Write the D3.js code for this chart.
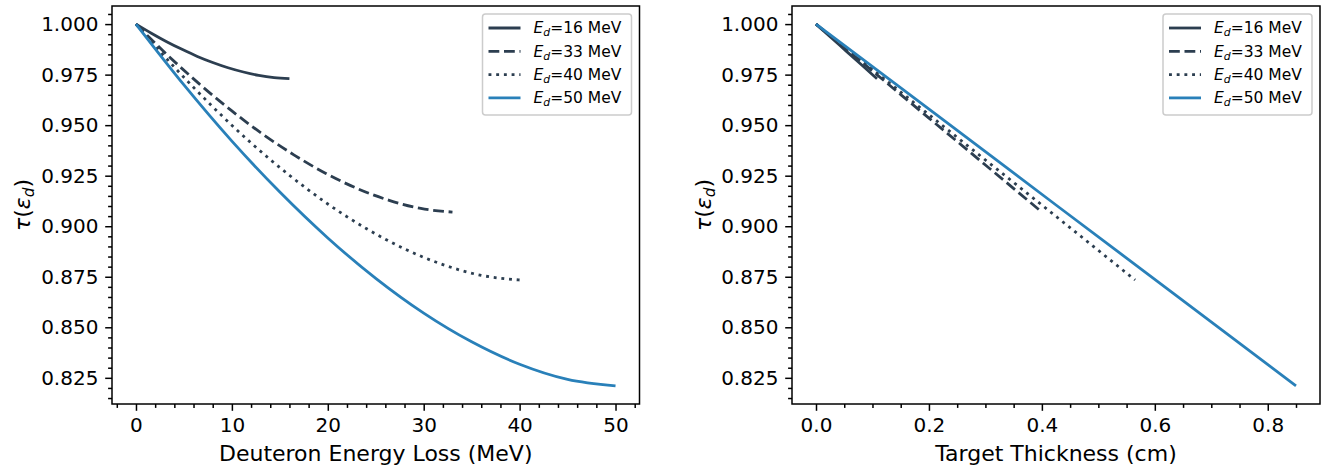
<!DOCTYPE html>
<html><head><meta charset="utf-8">
<script src="https://cdn.jsdelivr.net/npm/d3@7"></script>
<style>
body{margin:0;background:#fff}
text{font-family:"DejaVu Sans",sans-serif;fill:#000}
</style>
</head><body>
<svg id="chart" width="1324" height="468"></svg>
<script>
// ---------- data ----------
const beamEnergies = [16, 33, 40, 50];
const seriesColors = ["#2c3e50", "#2c3e50", "#2c3e50", "#2980b9"];
const seriesDash = ["none", "10.8,4.7", "2.9,4.8", "none"];

// left panel: tau vs deuteron energy loss (MeV)
const energyLoss16 = [0, 1.6, 3.2, 4.8, 6.4, 8, 9.6, 11.2, 12.8, 14.4, 16];
const tauLoss16    = [1.000, 0.9955, 0.9913, 0.9875, 0.9840, 0.9810, 0.9784, 0.9763, 0.9746, 0.9735, 0.9730];
const energyLoss33 = [0, 3.3, 6.6, 9.9, 13.2, 16.5, 19.8, 23.1, 26.4, 29.7, 33];
const tauLoss33    = [1.000, 0.9846, 0.9704, 0.9574, 0.9456, 0.9352, 0.9261, 0.9186, 0.9128, 0.9088, 0.9070];
const energyLoss40 = [0, 4, 8, 12, 16, 20, 24, 28, 32, 36, 40];
const tauLoss40    = [1.000, 0.9787, 0.9591, 0.9412, 0.9252, 0.9110, 0.8989, 0.8888, 0.8810, 0.8757, 0.8734];
const energyLoss50 = [0, 5, 10, 15, 20, 25, 30, 35, 40, 45, 50];
const tauLoss50    = [1.000, 0.9699, 0.9421, 0.9169, 0.8942, 0.8742, 0.8570, 0.8428, 0.8317, 0.8242, 0.8210];

// right panel: tau vs target thickness (cm)
const thick16 = [0, 0.027, 0.054, 0.081, 0.108];
const tauThick16 = [1.000, 0.9933, 0.9865, 0.9798, 0.9730];
const thick33 = [0, 0.10, 0.20, 0.30, 0.40];
const tauThick33 = [1.000, 0.9768, 0.9535, 0.9303, 0.9070];
const thick40 = [0, 0.141, 0.2825, 0.424, 0.565];
const tauThick40 = [1.000, 0.9684, 0.9367, 0.9051, 0.8734];
const thick50 = [0, 0.2125, 0.425, 0.6375, 0.85];
const tauThick50 = [1.000, 0.9553, 0.9105, 0.8658, 0.8210];

const yTicks = [0.825, 0.850, 0.875, 0.900, 0.925, 0.950, 0.975, 1.000];
const xTicksLeft = [0, 10, 20, 30, 40, 50];
const xTicksRight = [0.0, 0.2, 0.4, 0.6, 0.8];

// ---------- drawing ----------
const svg = d3.select("#chart");
const FS_TICK = 20, FS_LABEL = 22, FS_LEG = 15.5;
const MAJ = 6.8, MIN = 3.9, PAD = 6.8, TW = 1.5;

function panel(opts) {
  const {left, right, top, bottom, xDomain, xMajor, xMinorStep, xFmt, xLabel, ylabelX, series} = opts;
  const x = d3.scaleLinear().domain(xDomain).range([left, right]);
  const y = d3.scaleLinear().domain([0.81205, 1.00895]).range([bottom, top]);
  const g = svg.append("g");

  const xMinor = d3.range(Math.ceil(xDomain[0] / xMinorStep) * xMinorStep, xDomain[1] + 1e-9, xMinorStep)
    .filter(v => !xMajor.some(m => Math.abs(m - v) < 1e-9));
  const yMinor = d3.range(0.815, 1.0089, 0.005).filter(v => !yTicks.some(m => Math.abs(m - v) < 1e-9));

  const ax = g.append("g").attr("transform", `translate(0,${bottom})`)
    .call(d3.axisBottom(x).tickValues(xMajor).tickFormat(xFmt).tickSize(MAJ).tickPadding(PAD));
  const axm = g.append("g").attr("transform", `translate(0,${bottom})`)
    .call(d3.axisBottom(x).tickValues(xMinor).tickFormat("").tickSize(MIN));
  const ay = g.append("g").attr("transform", `translate(${left},0)`)
    .call(d3.axisLeft(y).tickValues(yTicks).tickFormat(d3.format(".3f")).tickSize(MAJ).tickPadding(PAD));
  const aym = g.append("g").attr("transform", `translate(${left},0)`)
    .call(d3.axisLeft(y).tickValues(yMinor).tickFormat("").tickSize(MIN));
  [ax, axm, ay, aym].forEach(a => {
    a.select(".domain").remove();
    a.selectAll("line").attr("stroke", "#000").attr("stroke-width", TW);
    a.selectAll("text").attr("font-size", FS_TICK).attr("font-family", "DejaVu Sans").attr("fill", "#000");
  });

  const line = d3.line().x(d => x(d[0])).y(d => y(d[1])).curve(d3.curveMonotoneX);
  series.forEach((s, i) => {
    g.append("path").datum(d3.zip(s.x, s.y)).attr("d", line)
      .attr("fill", "none").attr("stroke", seriesColors[i]).attr("stroke-width", 2.8)
      .attr("stroke-dasharray", seriesDash[i] === "none" ? null : seriesDash[i]);
  });

  g.append("rect").attr("x", left).attr("y", top).attr("width", right - left).attr("height", bottom - top)
    .attr("fill", "none").attr("stroke", "#000").attr("stroke-width", TW);

  g.append("text").attr("x", (left + right) / 2).attr("y", 461).attr("text-anchor", "middle")
    .attr("font-size", FS_LABEL).text(xLabel);

  const yl = g.append("text").attr("transform", `translate(${ylabelX},${(top + bottom) / 2}) rotate(-90)`)
    .attr("text-anchor", "middle").attr("dy", "0.35em").attr("font-size", FS_LABEL);
  yl.append("tspan").attr("font-style", "italic").text("τ");
  yl.append("tspan").text("(");
  yl.append("tspan").attr("font-style", "italic").text("ε");
  yl.append("tspan").attr("font-style", "italic").attr("font-size", FS_LABEL * 0.7).attr("dy", 4).text("d");
  yl.append("tspan").attr("dy", -4).text(")");

  const lw = 149, lh = 101;
  const lx = right - 8 - lw, ly = top + 8;
  const leg = g.append("g");
  leg.append("rect").attr("x", lx).attr("y", ly).attr("width", lw).attr("height", lh).attr("rx", 3)
    .attr("fill", "#fff").attr("fill-opacity", 0.8).attr("stroke", "#cccccc").attr("stroke-width", 1.5);
  beamEnergies.forEach((e, i) => {
    const cy = ly + 14 + i * 23.3;
    leg.append("line").attr("x1", lx + 6).attr("x2", lx + 38).attr("y1", cy).attr("y2", cy)
      .attr("stroke", seriesColors[i]).attr("stroke-width", 2.8)
      .attr("stroke-dasharray", seriesDash[i] === "none" ? null : seriesDash[i]);
    const t = leg.append("text").attr("x", lx + 51).attr("y", cy).attr("dy", "0.35em").attr("font-size", FS_LEG);
    t.append("tspan").attr("font-style", "italic").text("E");
    t.append("tspan").attr("font-style", "italic").attr("font-size", FS_LEG * 0.7).attr("dy", 3).text("d");
    t.append("tspan").attr("dy", -3).text(`=${e} MeV`);
  });
}

panel({
  left: 112, right: 639.5, top: 6, bottom: 404,
  xDomain: [-2.5, 52.5], xMajor: xTicksLeft, xMinorStep: 2, xFmt: d3.format("d"),
  xLabel: "Deuteron Energy Loss (MeV)", ylabelX: 22,
  series: [
    {x: energyLoss16, y: tauLoss16}, {x: energyLoss33, y: tauLoss33},
    {x: energyLoss40, y: tauLoss40}, {x: energyLoss50, y: tauLoss50}
  ]
});
panel({
  left: 792, right: 1320, top: 6, bottom: 404,
  xDomain: [-0.0425, 0.8925], xMajor: xTicksRight, xMinorStep: 0.05, xFmt: d3.format(".1f"),
  xLabel: "Target Thickness (cm)", ylabelX: 703,
  series: [
    {x: thick16, y: tauThick16}, {x: thick33, y: tauThick33},
    {x: thick40, y: tauThick40}, {x: thick50, y: tauThick50}
  ]
});
</script>
</body></html>
